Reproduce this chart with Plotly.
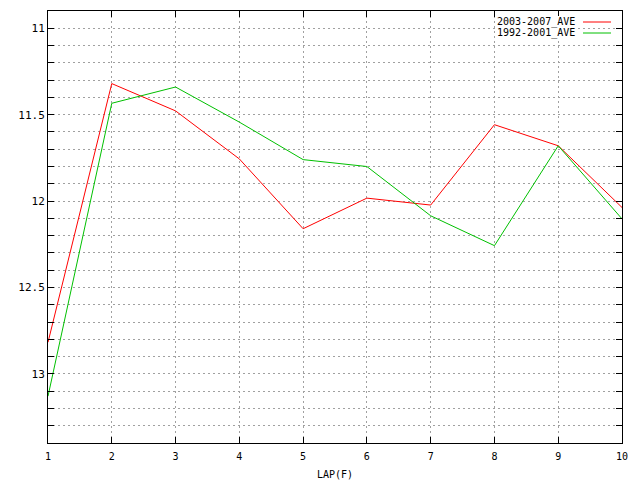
import plotly.graph_objects as go

laps = [1, 2, 3, 4, 5, 6, 7, 8, 9, 10]
series_names = ["2003-2007_AVE", "1992-2001_AVE"]
ave_2003_2007 = [12.817, 11.32, 11.478, 11.756, 12.16, 11.983, 12.023, 11.558, 11.68, 12.037]
ave_1992_2001 = [13.129, 11.434, 11.34, 11.543, 11.76, 11.80, 12.085, 12.258, 11.68, 12.103]
colors = ["#ff0000", "#00c000"]

y_ticks = [round(11.0 + 0.1 * i, 1) for i in range(24)]
y_labels = [("%g" % v) if abs(v * 2 - round(v * 2)) < 1e-9 else "" for v in y_ticks]

FONT = "DejaVu Sans Mono, Liberation Mono, monospace"


def px_x(p):
    return (p - 48) / 574


def px_y(p):
    return 1 - (p - 11) / 432


fig = go.Figure()
for name, vals, c in zip(series_names, [ave_2003_2007, ave_1992_2001], colors):
    fig.add_trace(go.Scatter(x=laps, y=vals, mode="lines", name=name,
                             line=dict(color=c, width=1), showlegend=False))

# gnuplot-style key: opaque area, text then line sample
fig.add_shape(type="rect", xref="paper", yref="paper", layer="above",
              x0=px_x(496), x1=px_x(577), y0=px_y(39), y1=px_y(16),
              fillcolor="white", line=dict(width=0))
for i, (name, c) in enumerate(zip(series_names, colors)):
    yp = px_y(22 + 11 * i)
    fig.add_annotation(xref="paper", yref="paper", x=px_x(576), y=yp,
                       text=name, showarrow=False, xanchor="right", yanchor="middle",
                       borderpad=0,
                       font=dict(family=FONT, size=10, color="black"))
    fig.add_shape(type="line", xref="paper", yref="paper",
                  x0=px_x(583), x1=px_x(611), y0=yp, y1=yp,
                  line=dict(color=c, width=1))

fig.update_layout(
    width=632, height=472,
    margin=dict(l=40, r=18, t=3, b=37),
    paper_bgcolor="white", plot_bgcolor="white",
    font=dict(family=FONT, size=10, color="black"),
    xaxis=dict(range=[1, 10], tickvals=laps, ticks="inside", ticklen=6,
               tickcolor="black", showline=True, mirror="ticks", linecolor="black",
               linewidth=1, showgrid=True, gridcolor="#a0a0a0", griddash="2px,3px",
               gridwidth=1, zeroline=False, automargin=False, ticklabelstandoff=4,
               title=dict(text="LAP(F)", font=dict(size=10), standoff=9),
               tickfont=dict(size=10)),
    yaxis=dict(range=[13.4, 10.9], tickvals=y_ticks, ticktext=y_labels,
               ticks="inside", ticklen=6, tickcolor="black", showline=True,
               mirror="ticks", linecolor="black", linewidth=1, showgrid=True,
               gridcolor="#a0a0a0", griddash="2px,3px", gridwidth=1,
               zeroline=False, automargin=False, tickfont=dict(size=11)),
)

fig.write_html("out.html")
